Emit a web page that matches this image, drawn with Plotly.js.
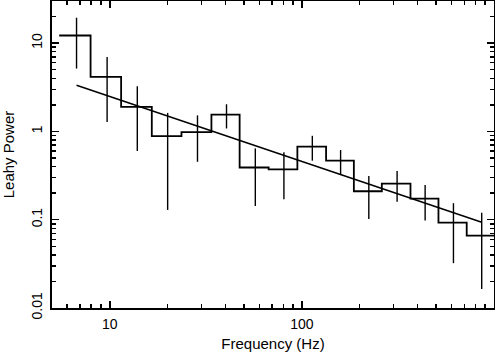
<!DOCTYPE html>
<html>
<head>
<meta charset="utf-8">
<script src="https://cdn.plot.ly/plotly-3.0.1.min.js"></script>
<style>html,body{margin:0;padding:0;background:#fff;}</style>
</head>
<body>
<div id="plot" style="width:495px;height:353px;"></div>
<script>
// frequency bin edges (Hz) and Leahy power per bin
var binEdges = [5.45, 7.94, 11.45, 16.54, 23.6, 33.8, 47.4, 67.1, 94.7, 133.6, 186.4, 260.6, 367.5, 513.9, 721, 1000];
var binPower = [12.2, 4.14, 1.90, 0.885, 0.982, 1.55, 0.390, 0.372, 0.674, 0.466, 0.210, 0.256, 0.173, 0.0927, 0.0661];

// error bar positions and extents
var binCentres = [6.71, 9.68, 13.9, 20.0, 28.6, 40.5, 57.2, 80.6, 113.3, 159, 223, 313, 438, 615, 863];
var errHigh = [19.4, 6.96, 3.25, 1.62, 1.52, 2.03, 0.642, 0.579, 0.892, 0.615, 0.313, 0.356, 0.247, 0.154, 0.120];
var errLow = [5.15, 1.28, 0.599, 0.129, 0.453, 1.08, 0.143, 0.171, 0.466, 0.321, 0.102, 0.160, 0.0977, 0.0322, 0.0164];

// power-law fit
var modelFreq = [6.71, 863];
var modelPower = [3.34, 0.0937];

var xMinor = [6, 7, 8, 9, 20, 30, 40, 50, 60, 70, 80, 90, 200, 300, 400, 500, 600, 700, 800, 900];
var yMinor = [0.02, 0.03, 0.04, 0.05, 0.06, 0.07, 0.08, 0.09, 0.2, 0.3, 0.4, 0.5, 0.6, 0.7, 0.8, 0.9,
              2, 3, 4, 5, 6, 7, 8, 9, 20];

var stepY = binPower.concat([binPower[binPower.length - 1]]);

var data = [
  {
    x: binEdges, y: stepY,
    mode: 'lines', line: {shape: 'hv', color: '#000', width: 1.8},
    hoverinfo: 'skip'
  },
  {
    x: binCentres, y: binPower,
    mode: 'markers', marker: {size: 2, color: 'rgba(0,0,0,0)'},
    error_y: {
      type: 'data', symmetric: false,
      array: errHigh.map(function (v, i) { return v - binPower[i]; }),
      arrayminus: errLow.map(function (v, i) { return binPower[i] - v; }),
      width: 0, thickness: 1.4, color: '#000'
    }
  },
  {
    x: modelFreq, y: modelPower,
    mode: 'lines', line: {color: '#000', width: 1.5}
  }
];

var font = {family: 'Liberation Sans, Arial, sans-serif', size: 14, color: '#000'};
var titleFont = {family: 'Liberation Sans, Arial, sans-serif', size: 15, color: '#000'};

var layout = {
  width: 495, height: 353,
  margin: {l: 52, r: 1, t: 1, b: 45},
  showlegend: false,
  paper_bgcolor: '#fff', plot_bgcolor: '#fff',
  font: font,
  xaxis: {
    type: 'log', range: [Math.log10(5), 3],
    tickmode: 'array', tickvals: [10, 100], ticktext: ['10', '100'],
    ticks: 'inside', ticklen: 7, tickwidth: 1.5, tickcolor: '#000',
    ticklabelstandoff: 2,
    minor: {tickmode: 'array', tickvals: xMinor, ticks: 'inside', ticklen: 4, tickwidth: 1.5, tickcolor: '#000', showgrid: false},
    showline: true, linewidth: 2, linecolor: '#000', mirror: 'ticks',
    showgrid: false, zeroline: false,
    title: {text: 'Frequency (Hz)', font: titleFont, standoff: 8}
  },
  yaxis: {
    type: 'log', range: [-2, 1.477],
    tickmode: 'array', tickvals: [0.01, 0.1, 1, 10], ticktext: ['0.01', '0.1', '1', '10'],
    tickangle: -90,
    ticks: 'inside', ticklen: 7, tickwidth: 1.5, tickcolor: '#000',
    ticklabelstandoff: 2,
    minor: {tickmode: 'array', tickvals: yMinor, ticks: 'inside', ticklen: 4, tickwidth: 1.5, tickcolor: '#000', showgrid: false},
    showline: true, linewidth: 2, linecolor: '#000', mirror: 'ticks',
    showgrid: false, zeroline: false,
    title: {text: 'Leahy Power', font: titleFont, standoff: 11}
  }
};

Plotly.newPlot('plot', data, layout, {staticPlot: true});
</script>
</body>
</html>
